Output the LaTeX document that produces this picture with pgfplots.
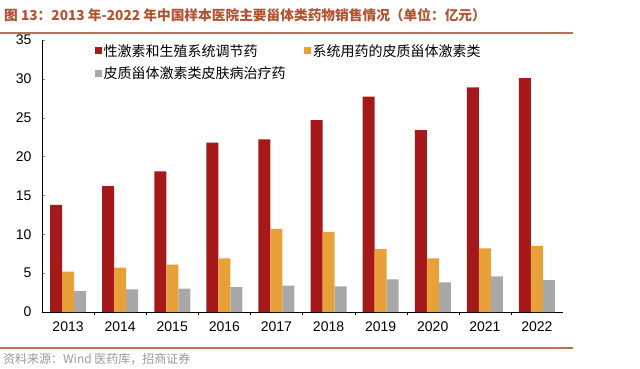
\documentclass[border=0pt]{standalone}
\usepackage{pgfplots}
\pgfplotsset{compat=1.18}
\usepackage{fontspec}
\setmainfont{Liberation Sans}
\newfontfamily\cjk{Noto Sans CJK SC}
\definecolor{cred}{RGB}{166,25,27}
\definecolor{corange}{RGB}{232,160,56}
\definecolor{cgray}{RGB}{168,168,168}
\definecolor{ctitle}{RGB}{178,82,50}
\definecolor{cline}{RGB}{192,112,80}
\begin{document}
\begin{tikzpicture}[x=1pt,y=1pt]
\path[use as bounding box] (0,0) rectangle (640,368);
\node[anchor=base west, inner sep=0pt, text=ctitle, font=\cjk\bfseries\fontsize{13.7}{16}\selectfont] at (4,348) {图 13：2013 年-2022 年中国样本医院主要甾体类药物销售情况（单位：亿元）};
\draw[cline, line width=1.5pt] (0,335) -- (573,335);
\draw[cline, line width=1.5pt] (0,20) -- (573,20);
\node[anchor=base west, inner sep=0pt, text=black!40, font=\cjk\fontsize{12}{14}\selectfont] at (3,5) {资料来源：Wind 医药库，招商证券};
\begin{axis}[
  at={(42pt,56pt)}, anchor=south west,
  scale only axis, width=521pt, height=272pt,
  ymin=0, ymax=35, ytick={0,5,...,35},
  xmin=-0.5, xmax=9.5, xtick={0,...,9},
  xticklabels={2013,2014,2015,2016,2017,2018,2019,2020,2021,2022},
  axis x line*=bottom, axis y line*=left,
  tick align=inside,
  major tick length=3pt,
  x tick style={draw=none},
  minor xtick={0.5,1.5,...,8.5},
  minor x tick style={draw=black},
  minor tick length=3pt,
  ticklabel style={font=\fontsize{14}{16}\selectfont},
  yticklabel style={xshift=-7pt},
  xticklabel style={yshift=-3pt},
  /pgf/number format/assume math mode=true,
  ybar=0pt, bar width=12pt,
  legend columns=2,
  legend style={at={(0.095,1.0)}, anchor=north west, draw=none, fill=none,
    font=\cjk\fontsize{14}{16}\selectfont,
    /tikz/every even column/.append style={column sep=16pt},
    row sep=5pt},
  legend cell align=left,
  legend image code/.code={\fill[#1] (0pt,-3.5pt) rectangle (7pt,3.5pt);},
]
\addplot[fill=cred, draw=none] coordinates {(0,13.8) (1,16.2) (2,18.1) (3,21.8) (4,22.2) (5,24.7) (6,27.7) (7,23.4) (8,28.9) (9,30.1)};
\addplot[fill=corange, draw=none] coordinates {(0,5.2) (1,5.7) (2,6.1) (3,6.9) (4,10.7) (5,10.3) (6,8.1) (7,6.9) (8,8.2) (9,8.5)};
\addplot[fill=cgray, draw=none] coordinates {(0,2.7) (1,2.9) (2,3.0) (3,3.2) (4,3.4) (5,3.3) (6,4.2) (7,3.8) (8,4.6) (9,4.1)};
\legend{性激素和生殖系统调节药, 系统用药的皮质甾体激素类, 皮质甾体激素类皮肤病治疗药}
\end{axis}
\end{tikzpicture}
\end{document}
